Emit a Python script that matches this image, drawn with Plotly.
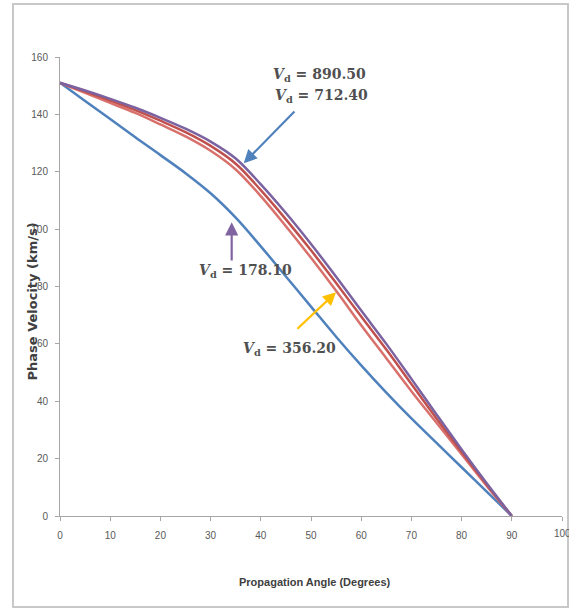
import plotly.graph_objects as go

angle = [0, 5, 10, 15, 20, 25, 30, 35, 40, 45, 50, 55, 60, 65, 70, 75, 80, 85, 90]
v_178_10 = [151, 144.7, 138.4, 132, 125.8, 119.5, 112.5, 104, 94, 83.5, 73, 62.5, 52.5, 43, 34, 25.5, 17, 8.5, 0]
v_356_20 = [151, 147.5, 144, 140.5, 136.5, 132.3, 127.3, 120.8, 111.5, 101, 90, 78.5, 66.5, 55, 43.5, 32.5, 21.5, 10.5, 0]
v_712_40 = [151, 148, 144.8, 141.5, 137.8, 133.8, 129, 122.8, 113.6, 103.4, 92.6, 81.2, 69.5, 58, 46, 34, 22.4, 11, 0]
v_890_50 = [151, 148.3, 145.4, 142.3, 138.8, 135, 130.5, 124.6, 115.6, 105.6, 94.8, 83.4, 71.6, 60, 47.8, 35.4, 23.2, 11.4, 0]
x_ticks = [0, 10, 20, 30, 40, 50, 60, 70, 80, 90]

series = [
    ("V_d = 178.10", v_178_10, "#4F81BD"),
    ("V_d = 356.20", v_356_20, "#D8706C"),
    ("V_d = 712.40", v_712_40, "#C0504D"),
    ("V_d = 890.50", v_890_50, "#7B62A0"),
]

fig = go.Figure()
for name, vals, col in series:
    fig.add_trace(go.Scatter(x=angle, y=vals, mode="lines", name=name,
                             line=dict(color=col, width=2.5, shape="spline", smoothing=1.0),
                             showlegend=False))

lab_font = dict(family="DejaVu Serif, serif", size=14, color="#505050")
tick_font = dict(family="Liberation Sans, Arial, sans-serif", size=10, color="#595959")

def lab(v):
    return "<b><i>V</i><sub>d</sub> = %s</b>" % v

anns = [
    dict(x=51.6, y=153.7, text=lab("890.50"), showarrow=False, font=lab_font),
    dict(x=52.0, y=146.3, text=lab("712.40"), showarrow=False, font=lab_font),
    dict(x=37.0, y=85.4, text=lab("178.10"), showarrow=False, font=lab_font),
    dict(x=45.8, y=58.2, text=lab("356.20"), showarrow=False, font=lab_font),
    # arrows
    dict(x=36.6, y=123, ax=47, ay=141.5, axref="x", ayref="y", showarrow=True,
         arrowhead=2, arrowsize=1.2, arrowwidth=2.2, arrowcolor="#4F81BD", text="", standoff=0),
    dict(x=34.2, y=102.4, ax=34.2, ay=88.5, axref="x", ayref="y", showarrow=True,
         arrowhead=2, arrowsize=1.2, arrowwidth=2.2, arrowcolor="#8064A2", text="", standoff=0),
    dict(x=55.0, y=78.0, ax=47, ay=64.8, axref="x", ayref="y", showarrow=True,
         arrowhead=2, arrowsize=1.2, arrowwidth=2.2, arrowcolor="#FFC000", text="", standoff=0),
    # last x tick label (cut at the right edge, as in the reference)
    dict(x=100, y=0, yref="y", text="100", showarrow=False, yanchor="top",
         yshift=-10, font=tick_font),
    # axis titles
    dict(xref="paper", yref="paper", x=(22 - 60) / 502, y=(516 - 302) / 459,
         text="<b>Phase Velocity (km/s)</b>", textangle=-90, showarrow=False,
         font=dict(family="DejaVu Sans, sans-serif", size=13, color="#404040")),
    dict(xref="paper", yref="paper", x=(315 - 60) / 502, y=(516 - 590) / 459,
         text="<b>Propagation Angle (Degrees)</b>", showarrow=False,
         font=dict(family="Liberation Sans, Arial, sans-serif", size=11, color="#404040")),
]

fig.update_layout(
    width=569, height=615,
    margin=dict(l=60, r=7, t=57, b=99),
    paper_bgcolor="white", plot_bgcolor="white",
    annotations=anns,
    shapes=[dict(type="rect", xref="paper", yref="paper",
                 x0=(13 - 60) / 502, x1=(568 - 60) / 502,
                 y0=(516 - 607) / 459, y1=(516 - 4) / 459,
                 line=dict(color="#C8C8C8", width=2), fillcolor="rgba(0,0,0,0)", layer="below")],
    font=tick_font,
)
fig.update_xaxes(range=[0, 100], tickvals=x_ticks + [100], ticktext=[str(t) for t in x_ticks] + [""],
                 showgrid=False, zeroline=False,
                 showline=True, linecolor="#A6A6A6", linewidth=1,
                 ticks="outside", ticklen=4, tickcolor="#A6A6A6", ticklabelstandoff=6)
fig.update_yaxes(range=[0, 160], dtick=20, showgrid=False, zeroline=False,
                 showline=True, linecolor="#A6A6A6", linewidth=1,
                 ticks="outside", ticklen=4, tickcolor="#A6A6A6", ticklabelstandoff=5)

fig.write_html("out.html")
